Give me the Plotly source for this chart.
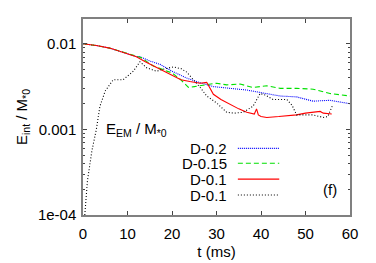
import plotly.graph_objects as go
import numpy as np

# Data (t in ms, log10 of E / M*0)
t_blue = [0, 3, 6, 9, 12, 12.8, 15, 17.3, 20, 23.3, 26, 29.3, 33, 36.8, 40, 44.3, 48, 51.7, 55.5, 60]
lg_blue = [-2.0, -2.02, -2.05, -2.10, -2.15, -2.15, -2.20, -2.24, -2.32, -2.40, -2.45, -2.50, -2.52, -2.54, -2.57, -2.61, -2.62, -2.67, -2.66, -2.70]

t_green = [0, 3, 6, 9, 12, 13, 15.8, 18, 20, 22, 23.7, 25, 27.8, 30, 32.3, 35.3, 38.2, 41.3, 44.3, 48, 51.7, 55.5, 60]
lg_green = [-2.0, -2.02, -2.05, -2.10, -2.15, -2.16, -2.26, -2.30, -2.34, -2.42, -2.51, -2.50, -2.48, -2.46, -2.48, -2.47, -2.51, -2.49, -2.52, -2.52, -2.53, -2.58, -2.61]

t_red = [0, 3, 6, 9, 12, 14, 17.3, 20, 22, 24, 26.3, 27.8, 29.3, 31, 33, 35, 36.8, 38.5, 39, 39.4, 40, 41.3, 44, 48, 50, 53.3, 54, 55.9]
lg_red = [-2.0, -2.02, -2.05, -2.10, -2.15, -2.21, -2.30, -2.37, -2.42, -2.44, -2.46, -2.45, -2.59, -2.65, -2.71, -2.76, -2.80, -2.82, -2.76, -2.83, -2.85, -2.86, -2.85, -2.83, -2.81, -2.79, -2.81, -2.82]

t_black = [0.4, 1.0, 2.0, 3.0, 3.8, 5.0, 6.8, 9.0, 11.3, 12.8, 14.3, 16.5, 18.5, 20.3, 22, 23.3, 24.8, 26.5, 27.8, 30, 32.3, 34, 36, 38.2, 39.8, 41, 42.7, 45.8, 47, 48, 51.7, 54, 55, 56]
lg_black = [-4.0, -3.6, -3.25, -3.0, -2.73, -2.55, -2.42, -2.42, -2.32, -2.21, -2.28, -2.32, -2.29, -2.27, -2.29, -2.33, -2.42, -2.52, -2.61, -2.69, -2.80, -2.81, -2.80, -2.73, -2.58, -2.60, -2.65, -2.65, -2.72, -2.83, -2.83, -2.86, -2.85, -2.73]

names = ["D-0.2", "D-0.15", "D-0.1", "D-0.1"]
colors = ["#0000ff", "#00e000", "#ff0000", "#000000"]
dashes = ["1px,1px", "5px,3px", "solid", "1px,2px"]
series_t = [t_blue, t_green, t_red, t_black]
series_lg = [lg_blue, lg_green, lg_red, lg_black]

fig = go.Figure()
for t, lg, c, d, n in zip(series_t, series_lg, colors, dashes, names):
    fig.add_trace(go.Scatter(x=t, y=(10 ** np.array(lg)).tolist(), mode="lines", name=n,
                             line=dict(color=c, dash=d, width=1.1), showlegend=False))

font = dict(family="Liberation Sans, Arial, sans-serif", size=15, color="#000000")

# Legend drawn manually (text left, sample line right)
legend_y = [0.340, 0.264, 0.183, 0.102]
for n, c, d, ly in zip(names, colors, dashes, legend_y):
    fig.add_annotation(xref="paper", yref="paper", x=0.545, y=ly, text=n, showarrow=False,
                       xanchor="right", yanchor="middle", font=font)
    fig.add_shape(type="line", xref="paper", yref="paper", x0=0.58, x1=0.735, y0=ly, y1=ly,
                  line=dict(color=c, dash=d, width=1.1))

fig.add_annotation(xref="paper", yref="paper", x=0.925, y=0.13, text="(f)", showarrow=False,
                   xanchor="center", yanchor="middle", font=font)
fig.add_annotation(x=4.8, y=-3.0, xref="x", yref="y", text="E<sub>EM</sub> / M<sub>*0</sub>",
                   showarrow=False, xanchor="left", yanchor="middle", font=font)

# page body adds an 8px offset, so margins are shifted accordingly
fig.update_layout(
    width=376, height=263,
    margin=dict(l=75, r=34, t=11, b=56),
    plot_bgcolor="white", paper_bgcolor="white",
    font=font,
)
fig.update_xaxes(range=[0, 60], tickvals=[0, 10, 20, 30, 40, 50, 60], ticks="inside", ticklen=4,
                 showline=True, linecolor="#808080", linewidth=1.5, mirror="ticks", showgrid=False,
                 zeroline=False, automargin=False, ticklabelstandoff=4,
                 title=dict(text="t (ms)", font=font, standoff=6), tickfont=font)
fig.update_yaxes(type="log", range=[-4, -1.71], tickvals=[1e-4, 1e-3, 1e-2], ticktext=["1e-04", "0.001", "0.01"],
                 ticks="inside", ticklen=4, showline=True, linecolor="#808080", linewidth=1.5, mirror="ticks",
                 minor=dict(ticks="inside", ticklen=2, tickvals=[k * 10 ** e for e in (-4, -3, -2) for k in range(2, 10)]),
                 showgrid=False, zeroline=False, tickfont=font, automargin=False, ticklabelstandoff=2,
                 title=dict(text="E<sub>int</sub> / M<sub>*0</sub>", font=font, standoff=7))

fig.write_html("out.html")
